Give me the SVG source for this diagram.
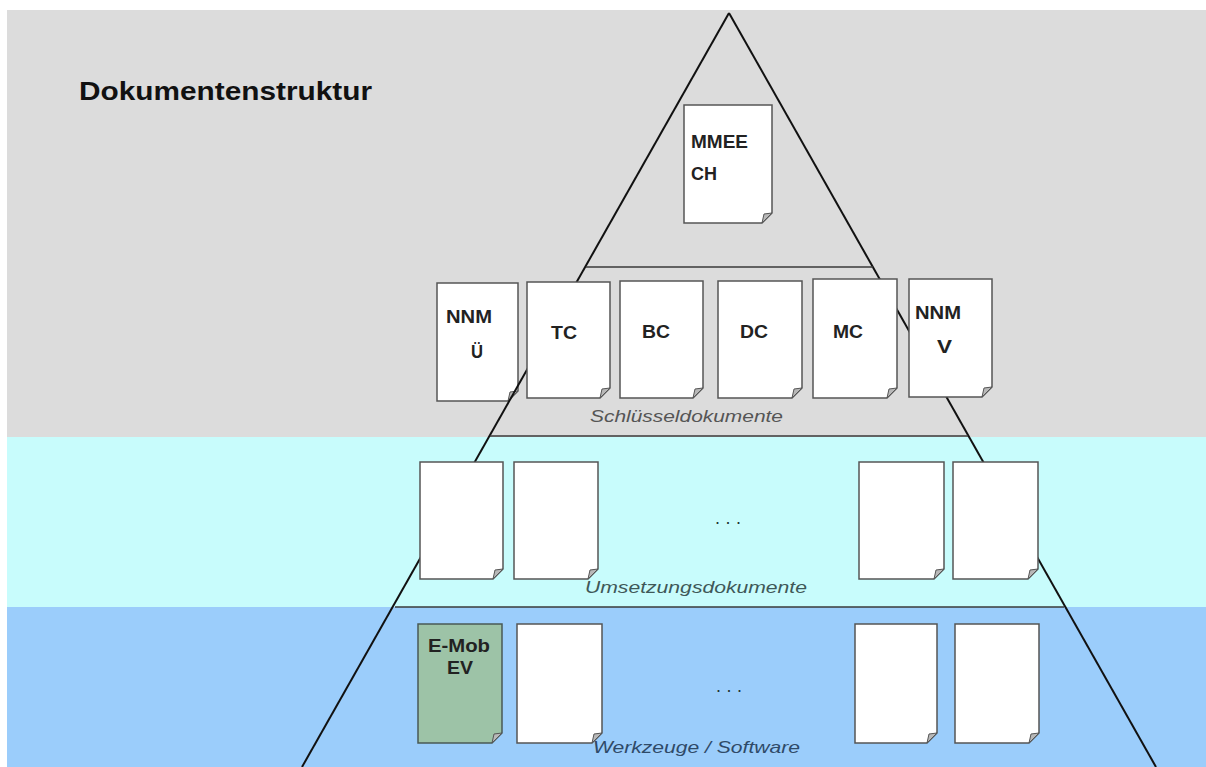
<svg xmlns="http://www.w3.org/2000/svg" width="1206" height="767" viewBox="0 0 1206 767">
  <style>
    .doc { fill: #ffffff; stroke: #555555; stroke-width: 1.5; }
    .doc-green { fill: #9dc3a7; stroke: #4a5a55; stroke-width: 1.5; }
    .fold { fill: #b8b8b8; stroke: #555555; stroke-width: 1; }
    .edge { stroke: #111111; stroke-width: 2; fill: none; }
    .tier { stroke: #3a3a3a; stroke-width: 1.5; fill: none; }
    .lbl { font-family: "Liberation Sans", Arial, sans-serif; font-weight: bold; font-size: 18px; fill: #222222; }
    .title { font-family: "Liberation Sans", Arial, sans-serif; font-weight: bold; font-size: 25px; fill: #111111; }
    .band { font-family: "Liberation Sans", Arial, sans-serif; font-style: italic; font-size: 17px; }
    .dots { font-family: "Liberation Sans", Arial, sans-serif; font-size: 18px; fill: #1f3333; }
  </style>

  <!-- background bands -->
  <g id="background">
    <rect x="0" y="0" width="1206" height="767" fill="#ffffff"/>
    <rect x="7" y="10" width="1199" height="427" fill="#dcdcdc"/>
    <rect x="7" y="437" width="1199" height="170" fill="#c8fcfc"/>
    <rect x="7" y="607" width="1199" height="160" fill="#9bcdfb"/>
  </g>

  <g id="title">
    <text class="title" x="79" y="100" textLength="293" lengthAdjust="spacingAndGlyphs">Dokumentenstruktur</text>
  </g>

  <!-- document that sits behind the pyramid edge -->
  <g id="doc-nnm-ue">
    <path class="doc" d="M437 283 H518 V391 L508 401 H437 Z"/>
    <path class="fold" d="M508 401 L510 392 L518 391 Z"/>
    <text class="lbl" x="446" y="323" textLength="46" lengthAdjust="spacingAndGlyphs">NNM</text>
    <text class="lbl" x="471" y="358" textLength="12" lengthAdjust="spacingAndGlyphs">Ü</text>
  </g>

  <!-- pyramid outline and tier separators -->
  <g id="connectors">
    <line class="edge" x1="729" y1="13" x2="302" y2="767"/>
    <line class="edge" x1="729" y1="13" x2="1156" y2="767"/>
    <line class="tier" x1="586" y1="267" x2="873" y2="267"/>
    <line class="tier" x1="490" y1="436" x2="968" y2="436"/>
    <line class="tier" x1="395" y1="607" x2="1064" y2="607"/>
  </g>

  <g id="doc-mmeech">
    <path class="doc" d="M684 105 H772 V213 L762 223 H684 Z"/>
    <path class="fold" d="M762 223 L764 214 L772 213 Z"/>
    <text class="lbl" x="691" y="148" textLength="57" lengthAdjust="spacingAndGlyphs">MMEE</text>
    <text class="lbl" x="691" y="180" textLength="26" lengthAdjust="spacingAndGlyphs">CH</text>
  </g>

  <g id="doc-tc">
    <path class="doc" d="M527 282 H610 V388 L600 398 H527 Z"/>
    <path class="fold" d="M600 398 L602 389 L610 388 Z"/>
    <text class="lbl" x="551" y="339" textLength="26" lengthAdjust="spacingAndGlyphs">TC</text>
  </g>

  <g id="doc-bc">
    <path class="doc" d="M620 281 H703 V388 L693 398 H620 Z"/>
    <path class="fold" d="M693 398 L695 389 L703 388 Z"/>
    <text class="lbl" x="642" y="338" textLength="28" lengthAdjust="spacingAndGlyphs">BC</text>
  </g>

  <g id="doc-dc">
    <path class="doc" d="M718 281 H802 V388 L792 398 H718 Z"/>
    <path class="fold" d="M792 398 L794 389 L802 388 Z"/>
    <text class="lbl" x="740" y="338" textLength="28" lengthAdjust="spacingAndGlyphs">DC</text>
  </g>

  <g id="doc-mc">
    <path class="doc" d="M813 279 H897 V388 L887 398 H813 Z"/>
    <path class="fold" d="M887 398 L889 389 L897 388 Z"/>
    <text class="lbl" x="833" y="338" textLength="30" lengthAdjust="spacingAndGlyphs">MC</text>
  </g>

  <g id="doc-nnm-v">
    <path class="doc" d="M909 279 H992 V387 L982 397 H909 Z"/>
    <path class="fold" d="M982 397 L984 388 L992 387 Z"/>
    <text class="lbl" x="915" y="319" textLength="46" lengthAdjust="spacingAndGlyphs">NNM</text>
    <text class="lbl" x="937" y="353" textLength="15" lengthAdjust="spacingAndGlyphs">V</text>
  </g>

  <g id="label-key">
    <text class="band" x="590" y="422" fill="#555555" textLength="193" lengthAdjust="spacingAndGlyphs">Schlüsseldokumente</text>
  </g>

  <!-- implementation documents -->
  <g id="doc-impl-1">
    <path class="doc" d="M420 462 H503 V569 L493 579 H420 Z"/>
    <path class="fold" d="M493 579 L495 570 L503 569 Z"/>
  </g>
  <g id="doc-impl-2">
    <path class="doc" d="M514 462 H598 V569 L588 579 H514 Z"/>
    <path class="fold" d="M588 579 L590 570 L598 569 Z"/>
  </g>
  <g id="doc-impl-3">
    <path class="doc" d="M859 462 H944 V569 L934 579 H859 Z"/>
    <path class="fold" d="M934 579 L936 570 L944 569 Z"/>
  </g>
  <g id="doc-impl-4">
    <path class="doc" d="M953 462 H1038 V569 L1028 579 H953 Z"/>
    <path class="fold" d="M1028 579 L1030 570 L1038 569 Z"/>
  </g>
  <g id="ellipsis-impl">
    <text class="dots" x="715" y="524" textLength="26" lengthAdjust="spacing">...</text>
  </g>
  <g id="label-impl">
    <text class="band" x="585" y="593" fill="#3f5858" textLength="222" lengthAdjust="spacingAndGlyphs">Umsetzungsdokumente</text>
  </g>

  <!-- tools / software -->
  <g id="doc-emob-ev">
    <path class="doc-green" d="M418 624 H502 V733 L492 743 H418 Z"/>
    <path class="fold" d="M492 743 L494 734 L502 733 Z"/>
    <text class="lbl" x="428" y="652" fill="#1c2c22" textLength="62" lengthAdjust="spacingAndGlyphs">E-Mob</text>
    <text class="lbl" x="447" y="674" fill="#1c2c22" textLength="26" lengthAdjust="spacingAndGlyphs">EV</text>
  </g>
  <g id="doc-tool-2">
    <path class="doc" d="M517 624 H602 V733 L592 743 H517 Z"/>
    <path class="fold" d="M592 743 L594 734 L602 733 Z"/>
  </g>
  <g id="doc-tool-3">
    <path class="doc" d="M855 624 H937 V733 L927 743 H855 Z"/>
    <path class="fold" d="M927 743 L929 734 L937 733 Z"/>
  </g>
  <g id="doc-tool-4">
    <path class="doc" d="M955 624 H1039 V733 L1029 743 H955 Z"/>
    <path class="fold" d="M1029 743 L1031 734 L1039 733 Z"/>
  </g>
  <g id="ellipsis-tools">
    <text class="dots" x="716" y="692" textLength="26" lengthAdjust="spacing">...</text>
  </g>
  <g id="label-tools">
    <text class="band" x="593" y="753" fill="#2f4a68" textLength="207" lengthAdjust="spacingAndGlyphs">Werkzeuge  / Software</text>
  </g>
</svg>
